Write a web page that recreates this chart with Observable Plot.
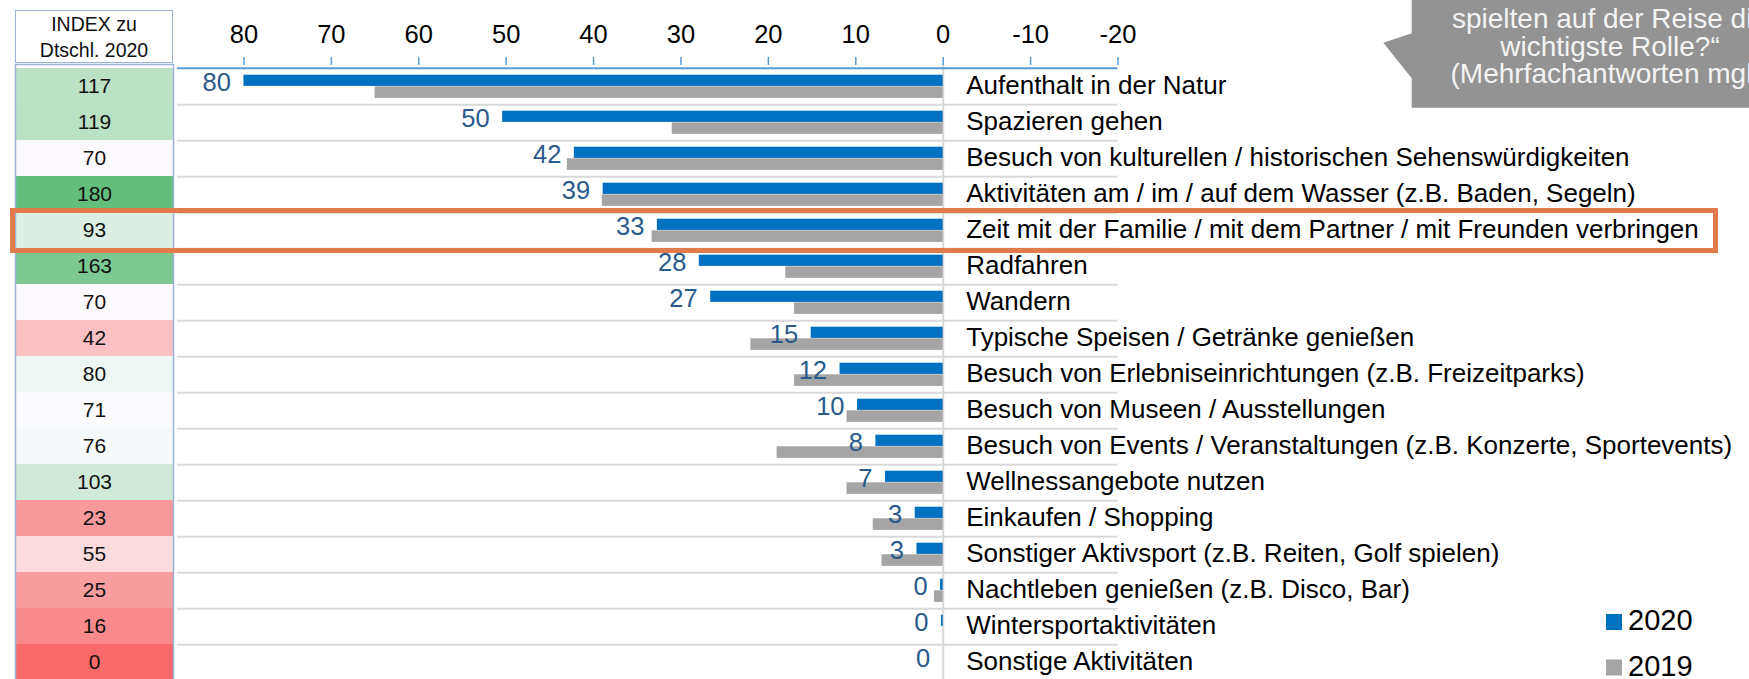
<!DOCTYPE html>
<html><head><meta charset="utf-8">
<script src="https://cdn.jsdelivr.net/npm/d3@7"></script>
<script src="https://cdn.jsdelivr.net/npm/@observablehq/plot@0.6"></script>
<style>
body{margin:0;background:#fff;font-family:"Liberation Sans",Arial,sans-serif;}
#wrap{position:relative;width:1749px;height:679px;overflow:hidden;background:#fff;}
#wrap > *{position:absolute;}
</style></head><body><div id="wrap"></div>
<script>
const categories = [
  "Aufenthalt in der Natur",
  "Spazieren gehen",
  "Besuch von kulturellen / historischen Sehenswürdigkeiten",
  "Aktivitäten am / im / auf dem Wasser (z.B. Baden, Segeln)",
  "Zeit mit der Familie / mit dem Partner / mit Freunden verbringen",
  "Radfahren",
  "Wandern",
  "Typische Speisen / Getränke genießen",
  "Besuch von Erlebniseinrichtungen (z.B. Freizeitparks)",
  "Besuch von Museen / Ausstellungen",
  "Besuch von Events / Veranstaltungen (z.B. Konzerte, Sportevents)",
  "Wellnessangebote nutzen",
  "Einkaufen / Shopping",
  "Sonstiger Aktivsport (z.B. Reiten, Golf spielen)",
  "Nachtleben genießen (z.B. Disco, Bar)",
  "Wintersportaktivitäten",
  "Sonstige Aktivitäten"
];
const values2020 = [80, 50.4, 42.2, 38.9, 32.7, 27.9, 26.6, 15.1, 11.8, 9.8, 7.7, 6.6, 3.2, 3.0, 0.3, 0.2, 0];
const values2019 = [65, 31, 43, 39, 33.3, 18, 17, 22, 17, 11, 19, 11, 8, 7, 1, 0, 0];
const indexValues = [117, 119, 70, 180, 93, 163, 70, 42, 80, 71, 76, 103, 23, 55, 25, 16, 0];
const xTicks = [80, 70, 60, 50, 40, 30, 20, 10, 0, -10, -20];
const highlighted = "Zeit mit der Familie / mit dem Partner / mit Freunden verbringen";
const indexHeader = ["INDEX zu", "Dtschl. 2020"];
const legendItems = [{label: "2020", color: "#0070C0"}, {label: "2019", color: "#A5A5A5"}];
const calloutLines = ["spielten auf der Reise die", "wichtigste Rolle?“", "(Mehrfachantworten mgl.)"];

const rows = categories.map((cat, i) => ({cat, v2020: values2020[i], v2019: values2019[i], idx: indexValues[i]}));
const FONT = "Liberation Sans, Arial, sans-serif";
const H = 683;
const wrap = document.getElementById("wrap");
const ns = "http://www.w3.org/2000/svg";

const yScale = {domain: categories, padding: 0};
const main = Plot.plot({
  width: 1749, height: H,
  marginLeft: 177, marginRight: 631.5, marginTop: 64, marginBottom: 0,
  style: {fontFamily: FONT, background: "transparent", overflow: "visible"},
  x: {domain: [87.6, -20]},
  y: {...yScale, axis: null},
  marks: [
    Plot.ruleY(categories, {dy: 18.2, stroke: "#D9D9D9", strokeWidth: 2}),
    Plot.ruleX([0], {stroke: "#D9D9D9", strokeWidth: 2}),
    Plot.barX(rows, {x: "v2020", y: "cat", fill: "#0070C0", insetTop: 6.7, insetBottom: 18.1}),
    Plot.barX(rows, {x: "v2019", y: "cat", fill: "#A5A5A5", insetTop: 18.3, insetBottom: 6.1}),
    Plot.text(rows, {x: "v2020", y: "cat", text: d => String(Math.round(d.v2020)), textAnchor: "end", dx: -13, dy: -3.5, fill: "#2A5A8C", fontSize: 25.5}),
    Plot.text(rows, {x: 0, y: "cat", text: "cat", textAnchor: "start", dx: 23, dy: -0.5, fill: "#000", fontSize: 26}),
    Plot.ruleY([categories[0]], {dy: -18.2, stroke: "#5B9BD5", strokeWidth: 2}),
    Plot.axisX(xTicks, {anchor: "top", tickSize: 8, tickPadding: 14, stroke: "#5B9BD5", strokeWidth: 1.5, fill: "#000", fontSize: 25.5, tickFormat: d => String(d), label: null})
  ]
});
main.style.left = "0px"; main.style.top = "0px";
wrap.appendChild(main);

const colorDomain = [d3.min(indexValues), d3.median(indexValues), d3.max(indexValues)];
const idxPlot = Plot.plot({
  width: 190, height: H,
  marginLeft: 15, marginRight: 17, marginTop: 64, marginBottom: 0,
  style: {fontFamily: FONT, background: "transparent"},
  x: {type: "band", domain: ["idx"], axis: null, padding: 0},
  y: {...yScale, axis: null},
  color: {type: "linear", domain: colorDomain, range: ["#F8696B", "#FCFCFF", "#63BE7B"], interpolate: "rgb"},
  marks: [
    Plot.cell(rows, {x: () => "idx", y: "cat", fill: "idx", inset: 0}),
    Plot.text(rows, {x: () => "idx", y: "cat", text: d => String(d.idx), fill: "#111", fontSize: 21, dy: -0.5}),
    Plot.frame({stroke: "#9DB3D6", strokeWidth: 1.5})
  ]
});
idxPlot.style.left = "0px"; idxPlot.style.top = "0px";
wrap.appendChild(idxPlot);

// index header
const hdr = document.createElement("div");
Object.assign(hdr.style, {left: "15px", top: "10px", width: "158px", height: "53px", boxSizing: "border-box",
  border: "1.5px solid #9DB3D6", background: "#fff", fontSize: "19.5px", lineHeight: "26px", textAlign: "center",
  color: "#111", paddingTop: "0px", fontFamily: FONT, whiteSpace: "nowrap"});
hdr.innerHTML = indexHeader.join("<br>");
wrap.appendChild(hdr);

// highlight box around selected row
const ys = main.scale("y");
const rowTop = ys.apply(highlighted);
const box = document.createElement("div");
Object.assign(box.style, {left: "10px", top: (rowTop - 4.5) + "px", width: "1708px", height: (ys.bandwidth + 9) + "px",
  boxSizing: "border-box", border: "5px solid #E27B4B", pointerEvents: "none"});
wrap.appendChild(box);

// legend
const lg = document.createElementNS(ns, "svg");
lg.setAttribute("width", 160); lg.setAttribute("height", 90);
lg.style.left = "1589px"; lg.style.top = "589px";
legendItems.forEach((it, i) => {
  const r = document.createElementNS(ns, "rect");
  r.setAttribute("x", 17); r.setAttribute("y", 25 + i * 45.5);
  r.setAttribute("width", 16); r.setAttribute("height", 16);
  r.setAttribute("fill", it.color);
  lg.appendChild(r);
  const t = document.createElementNS(ns, "text");
  t.setAttribute("x", 39); t.setAttribute("y", 40.7 + i * 46);
  t.setAttribute("font-size", 29); t.setAttribute("font-family", FONT); t.setAttribute("fill", "#000");
  t.textContent = it.label;
  lg.appendChild(t);
});
wrap.appendChild(lg);

// callout (runs off the right edge, as in the reference)
const cs = document.createElementNS(ns, "svg");
cs.setAttribute("width", 369); cs.setAttribute("height", 110);
cs.style.left = "1380px"; cs.style.top = "0px";
const poly = document.createElementNS(ns, "path");
poly.setAttribute("d", "M31.7,0 H369 V107.7 H31.7 V78.3 L3.3,42.7 L31.7,33.3 Z");
poly.setAttribute("fill", "#939393");
cs.appendChild(poly);
calloutLines.forEach((l, i) => {
  const t = document.createElementNS(ns, "text");
  t.setAttribute("x", 230); t.setAttribute("y", 28 + i * 27.5);
  t.setAttribute("text-anchor", "middle");
  t.setAttribute("fill", "#F4F4F4");
  t.setAttribute("font-size", 28);
  t.setAttribute("font-family", FONT);
  t.textContent = l;
  cs.appendChild(t);
});
wrap.appendChild(cs);
</script>
</body></html>
